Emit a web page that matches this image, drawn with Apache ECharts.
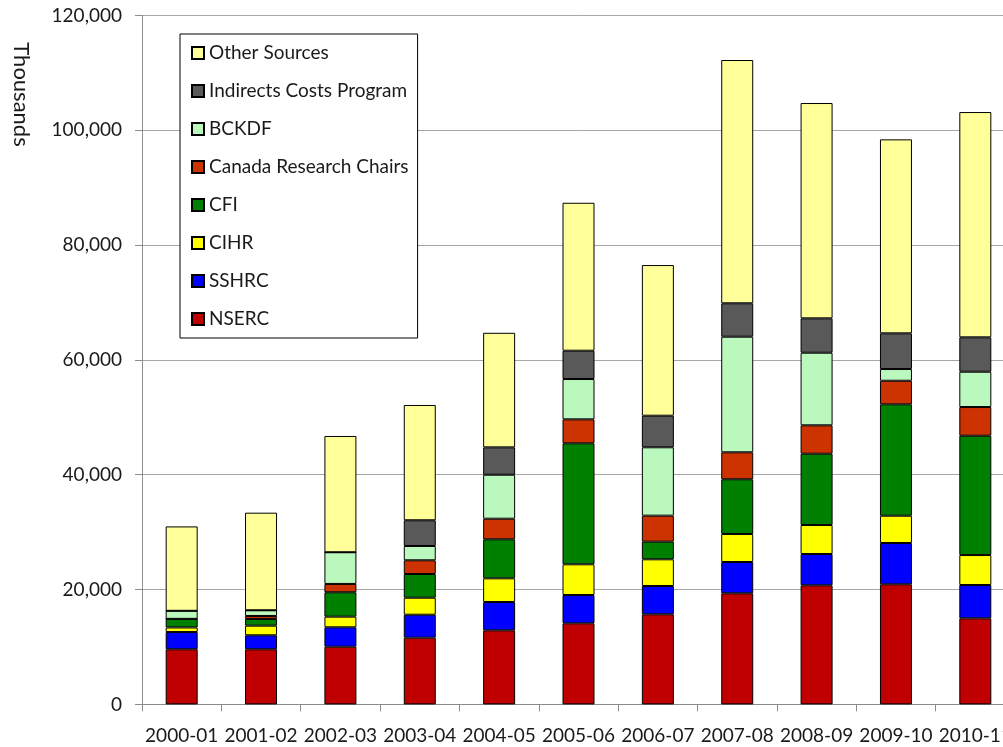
<!DOCTYPE html>
<html>
<head>
<meta charset="utf-8">
<script src="https://cdn.jsdelivr.net/npm/echarts@6/dist/echarts.min.js"></script>
<style>
html,body{margin:0;padding:0;background:#fff;overflow:hidden;width:1003px;height:747px;}
#c{width:1015px;height:747px;}
</style>
</head>
<body>
<div id="c"></div>
<script>
// Data (thousands of dollars)
const categories = ['2000-01','2001-02','2002-03','2003-04','2004-05','2005-06','2006-07','2007-08','2008-09','2009-10','2010-11'];
const nserc   = [9600, 9600, 10050, 11620, 12900, 14120, 15690, 19350, 20740, 20920, 14990];
const sshrc   = [3000, 2440, 3380, 4000, 4930, 4930, 4930, 5450, 5450, 7190, 5800];
const cihr    = [800, 1670, 1850, 2960, 4130, 5350, 4650, 4880, 5050, 4750, 5220];
const cfi     = [1500, 1170, 4250, 4130, 6790, 21070, 3070, 9530, 12420, 19400, 20780];
const crc     = [0, 520, 1450, 2390, 3590, 4180, 4530, 4700, 4950, 4110, 5000];
const bckdf   = [1400, 990, 5520, 2490, 7660, 7020, 11910, 20130, 12640, 2040, 6150];
const icp     = [0, 0, 0, 4480, 4770, 4930, 5500, 5820, 5990, 6220, 5990];
const other   = [14700, 17000, 20250, 20080, 19950, 25770, 26240, 42370, 37500, 33780, 39240];

const seriesNames = ['NSERC','SSHRC','CIHR','CFI','Canada Research Chairs','BCKDF','Indirects Costs Program','Other Sources'];
const seriesData = [nserc, sshrc, cihr, cfi, crc, bckdf, icp, other];
const colors = ['#C00000','#0000FF','#FFFF00','#008000','#CC3300','#BBF8BD','#595959','#FFFF99'];

const FONT = 'Lato';
const chart = echarts.init(document.getElementById('c'), null, {renderer:'canvas'});
chart.setOption({
  animation: false,
  backgroundColor: '#ffffff',
  textStyle: {fontFamily: FONT},
  grid: {left: 142, right: 0, top: 15.4, bottom: 42.6, containLabel: false},
  legend: {
    orient: 'vertical',
    left: 180, top: 34,
    data: seriesNames.slice().reverse(),
    icon: 'rect',
    itemWidth: 12, itemHeight: 12,
    itemGap: 18,
    padding: [9, 9, 9, 11],
    borderColor: '#000', borderWidth: 1,
    backgroundColor: '#fff',
    textStyle: {fontFamily: FONT, fontSize: 19, color: '#1a1a1a', lineHeight: 20},
    selectedMode: false
  },
  xAxis: {
    type: 'category',
    data: categories,
    axisLine: {lineStyle: {color: '#8c8c8c', width: 1}},
    axisTick: {show: true, length: 7, interval: 0, lineStyle: {color: '#8c8c8c'}},
    axisLabel: {interval: 0, margin: 22, fontFamily: FONT, fontSize: 19, color: '#1a1a1a'},
    splitLine: {show: false}
  },
  yAxis: {
    type: 'value',
    min: 0, max: 120000, interval: 20000,
    axisLine: {show: true, lineStyle: {color: '#8c8c8c', width: 1}},
    axisTick: {show: true, length: 7, lineStyle: {color: '#8c8c8c'}},
    axisLabel: {margin: 20, fontFamily: FONT, fontSize: 19, color: '#1a1a1a',
      formatter: v => v.toLocaleString('en-US')},
    splitLine: {lineStyle: {color: '#a6a6a6', width: 1}}
  },
  graphic: [{
    type: 'text',
    x: 21, y: 94.5,
    rotation: -Math.PI / 2,
    style: {text: 'Thousands', fontFamily: FONT, fontSize: 22, fill: '#1a1a1a', align: 'center', verticalAlign: 'middle'}
  }],
  series: seriesNames.map((n, i) => ({
    name: n,
    type: 'bar',
    stack: 'total',
    barWidth: 32,
    data: seriesData[i],
    itemStyle: {color: colors[i], borderColor: '#000', borderWidth: 1}
  }))
});
</script>
</body>
</html>
